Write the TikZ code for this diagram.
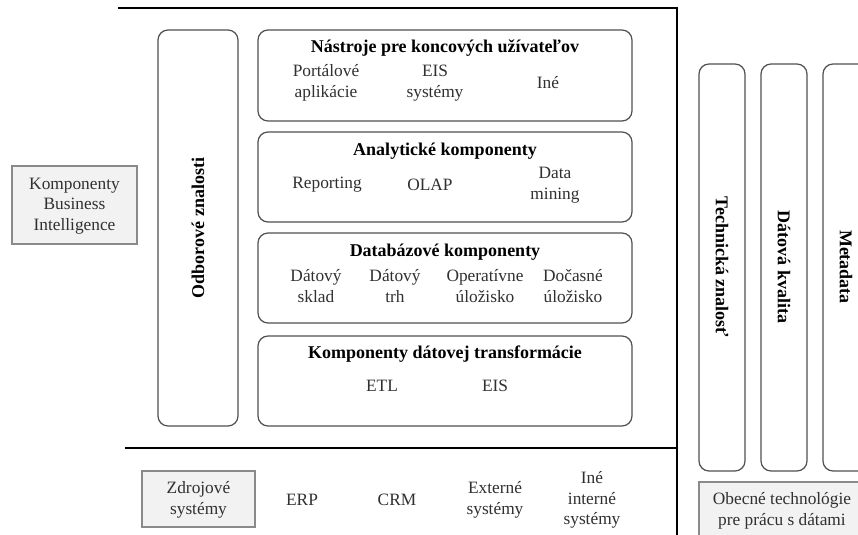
\documentclass[tikz,border=0pt]{standalone}
\usepackage{fontspec}
\setmainfont{Liberation Serif}
\usepackage{tikz}
\usetikzlibrary{calc}
\definecolor{boxline}{HTML}{505050}
\definecolor{greyfill}{HTML}{F2F2F2}
\definecolor{greyline}{HTML}{8A8A8A}
\definecolor{textgrey}{HTML}{303030}
\tikzstyle{tier} = [draw = boxline, line width = 0.9pt, rounded corners = 7.5pt]
\tikzstyle{greybox} = [draw = greyline, fill = greyfill, line width = 0.9pt]
\tikzstyle{rule} = [line width = 0.8pt]
\tikzstyle{item} = [text = textgrey, align = center, inner sep = 0pt, font = \fontsize{13pt}{15.5pt}\selectfont]
\tikzstyle{title} = [align = center, inner sep = 0pt, font = \fontsize{13.5pt}{15.5pt}\selectfont\bfseries]
\tikzstyle{side} = [title, rotate = -90]

\begin{document}
\begin{tikzpicture}[x = 0.75pt, y = -0.75pt]
	\clip (0, 0) rectangle (858, 535) ;
	\fill[white] (0, 0) rectangle (858, 535) ;
	
	% frame lines
	\draw[rule] (118, 8) -- (677, 8) -- (677, 540) ;
	\draw[rule] (125, 448) -- (677, 448) ;
	
	% left label
	\draw[greybox] (12, 166) rectangle (137, 244) ;
	\node[item] (bi) at (74.5, 206) {Komponenty\\Business\\Intelligence} ;
	
	% expert knowledge
	\draw[tier] (158, 30) rectangle (238, 426) ;
	\node[title, rotate = 90] (expert) at (198, 228) {Odborové znalosti} ;
	
	% layers
	\draw[tier] (258, 30) rectangle (632, 121) ;
	\draw[tier] (258, 132) rectangle (632, 222) ;
	\draw[tier] (258, 233) rectangle (632, 323) ;
	\draw[tier] (258, 336) rectangle (632, 426) ;
	
	\node[title] (tools) at (445, 48) {Nástroje pre koncových užívateľov} ;
	\node[item] (portal) at (326, 83) {Portálové\\aplikácie} ;
	\node[item] (eis) at (435, 83) {EIS\\systémy} ;
	\node[item] (other) at (548, 83) {Iné} ;
	
	\node[title] (analytic) at (445, 151) {Analytické komponenty} ;
	\node[item] (reporting) at (327, 185) {Reporting} ;
	\node[item] (olap) at (430, 185) {OLAP} ;
	\node[item] (mining) at (555, 185) {Data\\mining} ;
	
	\node[title] (database) at (445, 252) {Databázové komponenty} ;
	\node[item] (dwh) at (316, 286) {Dátový\\sklad} ;
	\node[item] (mart) at (395, 286) {Dátový\\trh} ;
	\node[item] (ods) at (485, 286) {Operatívne\\úložisko} ;
	\node[item] (staging) at (573, 286) {Dočasné\\úložisko} ;
	
	\node[title] (transform) at (445, 354) {Komponenty dátovej transformácie} ;
	\node[item] (etl) at (382, 386) {ETL} ;
	\node[item] (eis2) at (495, 386) {EIS} ;
	
	% source systems
	\draw[greybox] (142, 471) rectangle (255, 527) ;
	\node[item] (sources) at (198.5, 500) {Zdrojové\\systémy} ;
	\node[item] (erp) at (302, 500) {ERP} ;
	\node[item] (crm) at (397, 500) {CRM} ;
	\node[item] (external) at (495, 500) {Externé\\systémy} ;
	\node[item] (internal) at (592, 500) {Iné\\interné\\systémy} ;
	
	% right pillars
	\foreach \x/\p/\t in {722/tech/Technická znalosť, 784/quality/Dátová kvalita, 846/meta/Metadata}
	{
		\draw[tier] (\x - 23, 64) rectangle (\x + 23, 471) ;
		\node[side] (\p) at (\x, 267) {\t} ;
	}
	
	\draw[greybox] (699, 482) rectangle (866, 545) ;
	\node[item] (general) at (782, 511) {Obecné technológie\\pre prácu s dátami} ;
	
\end{tikzpicture}
\end{document}
